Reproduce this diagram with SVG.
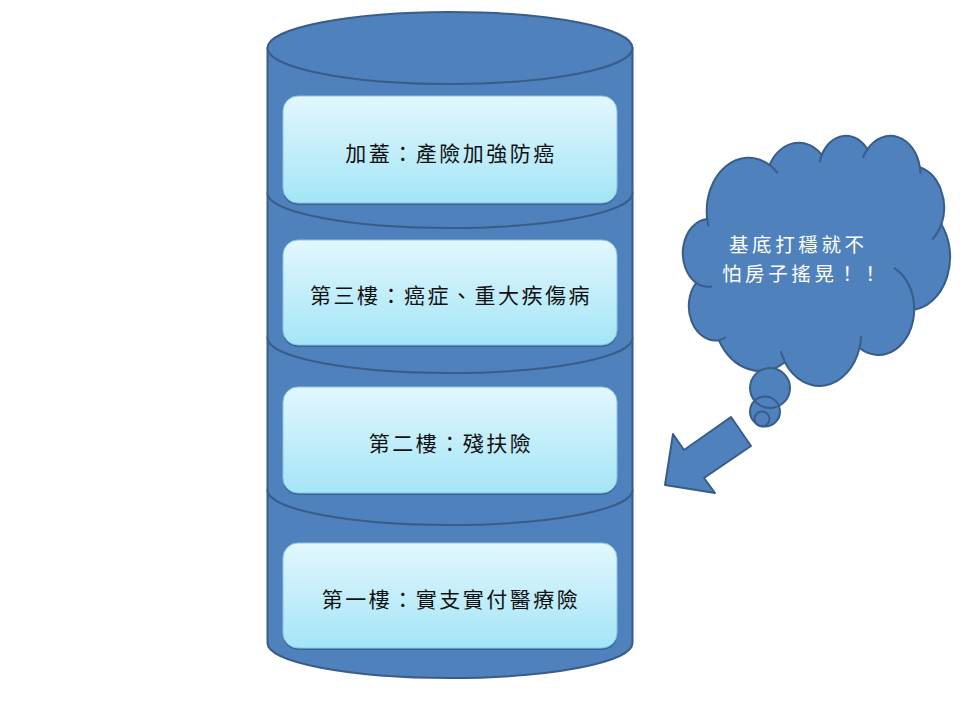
<svg xmlns="http://www.w3.org/2000/svg" width="960" height="720" viewBox="0 0 960 720">
  <defs>
    <linearGradient id="boxGrad" x1="0" y1="0" x2="0" y2="1">
      <stop offset="0" stop-color="#e2f7fd"/>
      <stop offset="1" stop-color="#a4e5f7"/>
    </linearGradient>
  </defs>
  <style>
    .blue { fill: #4f81bd; stroke: #385d8a; stroke-width: 2; stroke-linejoin: round; }
    .crease { fill: none; stroke: #385d8a; stroke-width: 2; }
    .shadow { fill: #2c5985; opacity: 0.7; }
    .box { fill: url(#boxGrad); stroke: #8cc3e3; stroke-width: 1; }
    .label { font-family: "Noto Sans CJK TC", "Noto Sans CJK SC", sans-serif; font-size: 21px; letter-spacing: 2.5px; fill: #111111; text-anchor: middle; dominant-baseline: central; }
    .cloudtext { font-family: "Noto Sans CJK TC", "Noto Sans CJK SC", sans-serif; font-size: 19.5px; letter-spacing: 3.6px; fill: #ffffff; dominant-baseline: central; }
  </style>
  <rect width="960" height="720" fill="#ffffff"/>

  <g id="cylinder">
    <path class="blue" d="M267.5,490 A182.5,35 0 0 1 632.5,490 L632.5,643 A182.5,35 0 0 1 267.5,643 Z"/>
    <path class="blue" d="M267.5,338 A182.5,35 0 0 1 632.5,338 L632.5,490 A182.5,35 0 0 1 267.5,490 Z"/>
    <path class="blue" d="M267.5,193 A182.5,35 0 0 1 632.5,193 L632.5,338 A182.5,35 0 0 1 267.5,338 Z"/>
    <path class="blue" d="M267.5,48 L632.5,48 L632.5,193 A182.5,35 0 0 1 267.5,193 Z"/>
    <ellipse class="blue" cx="450" cy="48" rx="182.5" ry="36"/>
  </g>

  <g id="floor-cap">
    <rect class="shadow" x="283" y="98" width="334" height="107" rx="15"/>
    <rect class="box" x="283" y="96" width="334" height="107" rx="15"/>
    <text class="label" x="451" y="152">加蓋：產險加強防癌</text>
  </g>
  <g id="floor-3">
    <rect class="shadow" x="283" y="242" width="334" height="105" rx="15"/>
    <rect class="box" x="283" y="240" width="334" height="105" rx="15"/>
    <text class="label" x="451" y="294">第三樓：癌症、重大疾傷病</text>
  </g>
  <g id="floor-2">
    <rect class="shadow" x="283" y="389" width="334" height="106" rx="15"/>
    <rect class="box" x="283" y="387" width="334" height="106" rx="15"/>
    <text class="label" x="451" y="442">第二樓：殘扶險</text>
  </g>
  <g id="floor-1">
    <rect class="shadow" x="283" y="545" width="334" height="105" rx="15"/>
    <rect class="box" x="283" y="543" width="334" height="105" rx="15"/>
    <text class="label" x="451" y="598">第一樓：實支實付醫療險</text>
  </g>

  <g id="cloud">
    <g transform="translate(683 135) scale(0.0061806 0.005787)">
      <path class="blue" vector-effect="non-scaling-stroke" d="M3900,14370 A6753,9190 0 0 1 14005,5202 A5333,7267 0 0 1 22456,3432 A4365,5945 0 0 1 29833,2481 A4857,6595 0 0 1 38318,5576 A5333,7273 0 0 1 41818,15460 A6775,9220 0 0 1 37405,30203 A5785,7867 0 0 1 28556,36813 A6752,9215 0 0 1 16481,39264 A7720,10543 0 0 1 5805,35470 A4360,5918 0 0 1 2114,25548 A4345,5945 0 0 1 3864,14504 Z"/>
      <path class="crease" vector-effect="non-scaling-stroke" d="M4693,26177 A4345,5945 0 0 1 2114,25548 M6928,34899 A4360,5918 0 0 1 5805,35470 M16478,39090 A6752,9215 0 0 1 15810,37350 M28827,34751 A6752,9215 0 0 1 28556,36813 M34129,22954 A5785,7867 0 0 1 37405,30203 M41798,15354 A5333,7273 0 0 1 40350,18030 M38324,5426 A4857,6595 0 0 1 38400,6690 M29078,3952 A4857,6595 0 0 1 29833,2481 M22141,4720 A4365,5945 0 0 1 22456,3432 M14000,5192 A6753,9190 0 0 1 15300,6540 M4127,15789 A6753,9190 0 0 1 3900,14370"/>
    </g>
    <circle cx="770" cy="388" r="20" fill="#4f81bd"/>
    <circle cx="765" cy="411.5" r="15" fill="#4f81bd"/>
    <circle cx="762" cy="419" r="7.5" fill="#4f81bd"/>
    <circle class="crease" cx="770" cy="388" r="20"/>
    <circle class="crease" cx="765" cy="411.5" r="15"/>
    <circle class="crease" cx="762" cy="419" r="7.5"/>
    <text class="cloudtext" x="729" y="243">基底打穩就不</text>
    <text class="cloudtext" x="722" y="272">怕房子搖晃！！</text>
  </g>

  <g id="connectors">
    <polygon class="blue" points="731,417 751,446 704,478 715,493 665,485 673,434 684,450"/>
  </g>
</svg>
